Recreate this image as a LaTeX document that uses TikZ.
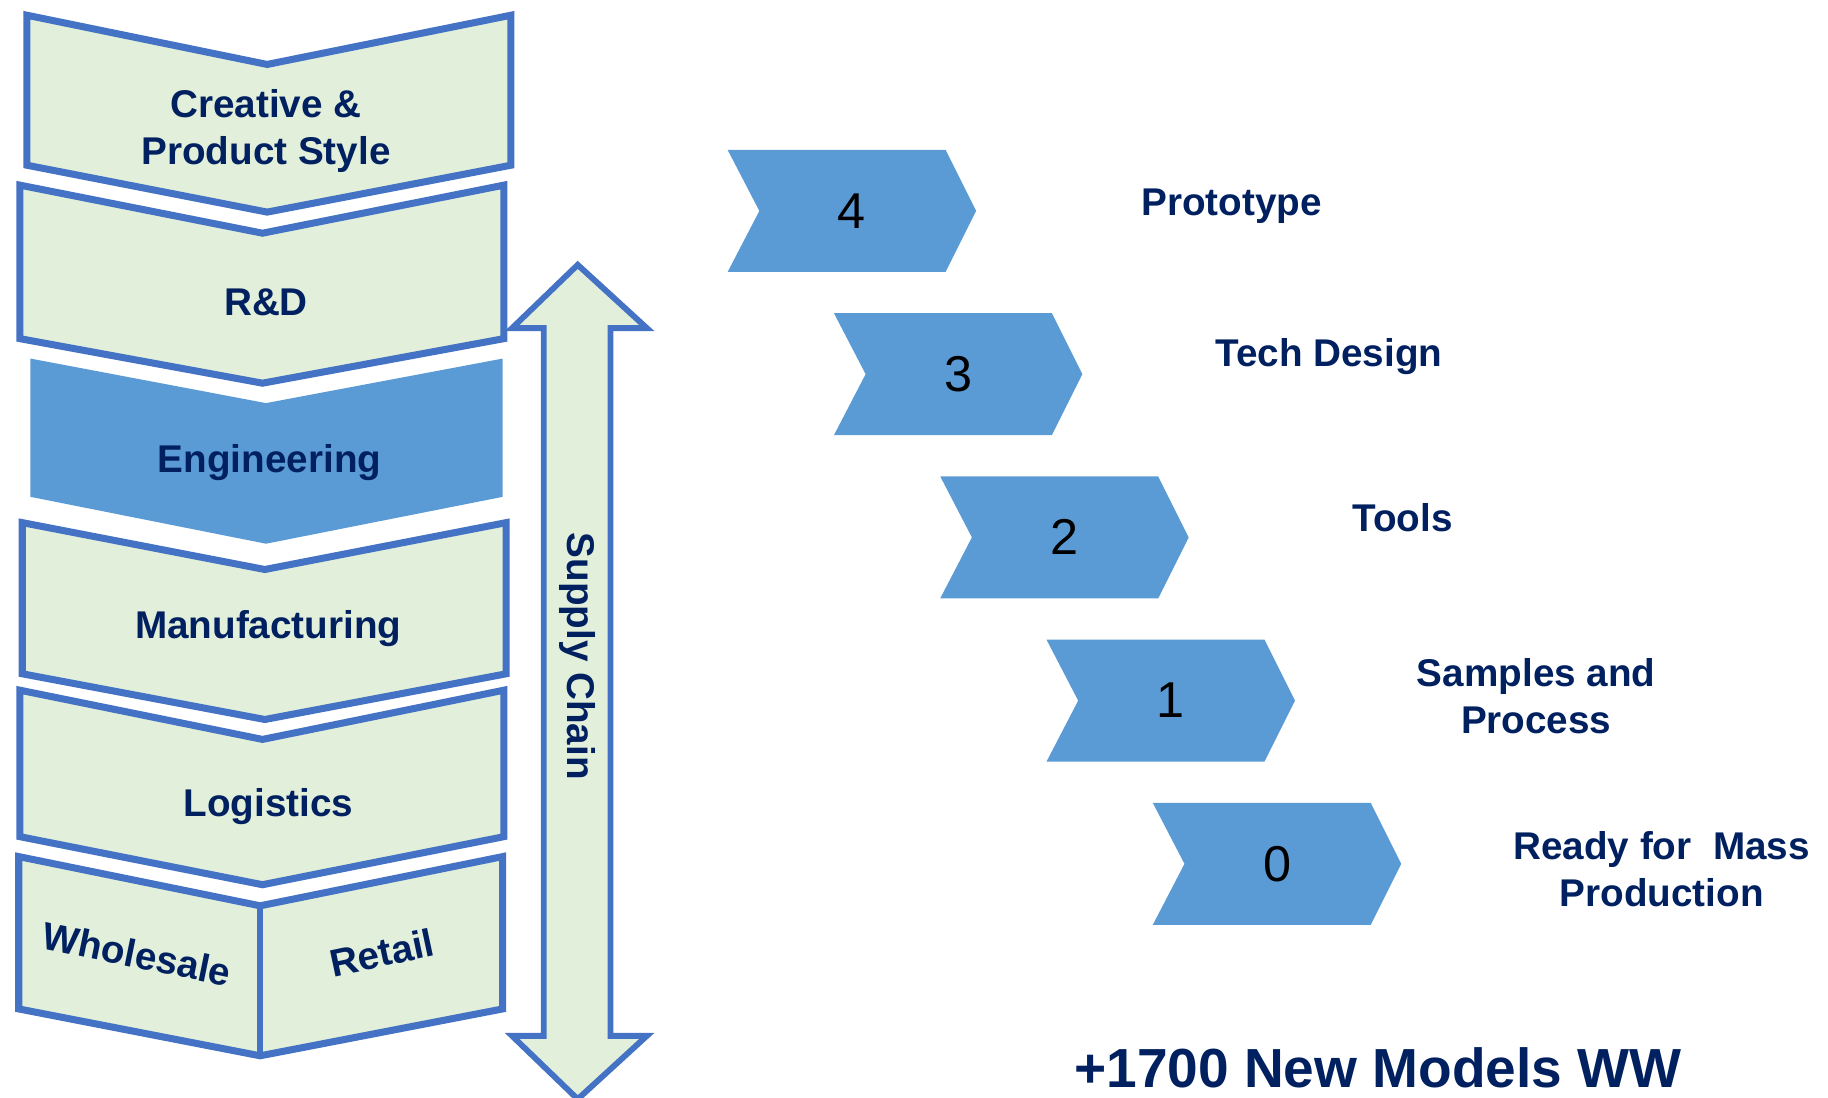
\documentclass[tikz,border=0pt]{standalone}
\usepackage{fontspec}
\setmainfont{Liberation Sans}
\definecolor{ol}{RGB}{68,114,196}
\definecolor{lg}{RGB}{226,239,218}
\definecolor{mb}{RGB}{91,155,213}
\definecolor{nv}{RGB}{0,32,96}
\begin{document}
\begin{tikzpicture}[x=1pt,y=-1pt,
  panel/.style={draw=ol, fill=lg, line width=6pt, miter limit=10},
  solidpanel/.style={fill=mb},
  stepchev/.style={fill=mb},
  lbl/.style={text=nv, font=\fontsize{33}{40}\selectfont\bfseries, align=center, inner sep=0pt},
  num/.style={text=black, font=\fontsize{43}{50}\selectfont, inner sep=0pt},
  big/.style={text=nv, font=\fontsize{47}{56}\selectfont\bfseries, inner sep=0pt}]
\useasboundingbox (0,0) rectangle (1560,937);

% left column of chevrons
\path[panel] (23,13) -- (228,55) -- (436,13) -- (436,141) -- (228,181) -- (23,141) -- cycle;
\path[panel] (17,158) -- (224,199) -- (430,158) -- (430,289) -- (224,327) -- (17,289) -- cycle;
\path[solidpanel] (26,306) -- (227,344) -- (429,306) -- (429,424) -- (227,464) -- (26,424) -- cycle;
\path[panel] (19,446) -- (226,486) -- (432,446) -- (432,575) -- (226,614) -- (19,575) -- cycle;
\path[panel] (17,589) -- (224,631) -- (430,589) -- (430,714) -- (224,755) -- (17,714) -- cycle;
\path[panel] (16,731) -- (222,773) -- (429,731) -- (429,861) -- (222,901) -- (16,861) -- cycle;
\draw[draw=ol, line width=5pt] (222,773) -- (222,901);

\node[lbl] (creative) at (227,112) {Creative \&\\Product Style};
\node[lbl] (rd) at (227,258) {R\&D};
\node[lbl] (eng) at (230,395) {Engineering};
\node[lbl] (manu) at (229,536) {Manufacturing};
\node[lbl] (logi) at (229,688) {Logistics};
\node[lbl, rotate=-11.5] (whole) at (117,814) {Wholesale};
\node[lbl, rotate=12] (retail) at (326,813) {Retail};

% supply chain double arrow
\path[draw=ol, fill=lg, line width=5pt, miter limit=10]
  (493,226) -- (552,280) -- (521,280) -- (521,884) -- (552,884) -- (493,938)
  -- (437,884) -- (464,884) -- (464,280) -- (437,280) -- cycle;
\node[lbl, rotate=-90] (supply) at (493,560) {Supply Chain};

% right step chevrons
\foreach \k/\n in {0/4,1/3,2/2,3/1,4/0}{
  \pgfmathsetmacro{\L}{621+90.7*\k}
  \pgfmathsetmacro{\T}{128+139.3*\k}
  \path[stepchev] (\L,\T) -- (\L+186,\T) -- (\L+212,\T+52) -- (\L+186,\T+104)
     -- (\L,\T+104) -- (\L+27,\T+52) -- cycle;
  \node[num] (n\n) at (\L+106,\T+52) {\n};
}

\node[lbl] (proto) at (1051,176) {Prototype};
\node[lbl] (tech) at (1134,304) {Tech Design};
\node[lbl] (tools) at (1197,442) {Tools};
\node[lbl] (samples) at (1311,594) {Samples and\\Process};
\node[lbl] (ready) at (1418,742) {Ready for~ Mass\\Production};

\node[big] (models) at (1176,911) {+1700 New Models WW};
\end{tikzpicture}
\end{document}
